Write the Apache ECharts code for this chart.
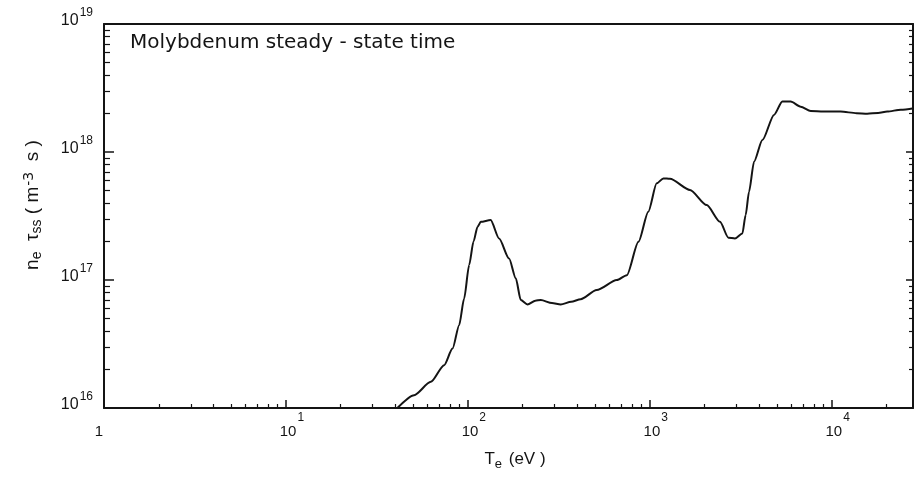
<!DOCTYPE html>
<html>
<head>
<meta charset="utf-8">
<script src="https://cdn.jsdelivr.net/npm/echarts@6/dist/echarts.min.js"></script>
<style>
  html, body { margin: 0; padding: 0; background: #ffffff; }
  #chart { width: 916px; height: 479px; }
</style>
</head>
<body>
<div id="chart"></div>
<script>
// ---- data ----
const temperatureEv = [41, 50.7, 62.6, 74.1, 82.4, 89.6, 95.4, 101.7, 107.5, 113, 117.9, 133.5, 148.5, 168.6, 183.5, 195.5, 212.8, 235, 252, 290, 324, 370, 417, 511, 659, 748, 867, 982, 1092, 1188, 1292, 1664, 2057, 2434, 2706, 2942, 3230, 3367, 3514, 3744, 4160, 4820, 5356, 5952, 6757, 7674, 9000, 11200, 13700, 15700, 18000, 20200, 24000, 28300];
const neTauSS = [1.0e16, 1.26e16, 1.6e16, 2.16e16, 2.91e16, 4.44e16, 7.16e16, 1.31e17, 2.0e17, 2.6e17, 2.85e17, 2.94e17, 2.11e17, 1.47e17, 1.03e17, 6.97e16, 6.43e16, 6.9e16, 6.97e16, 6.6e16, 6.43e16, 6.76e16, 7.08e16, 8.34e16, 9.98e16, 1.09e17, 1.99e17, 3.42e17, 5.69e17, 6.22e17, 6.17e17, 5.05e17, 3.85e17, 2.85e17, 2.14e17, 2.11e17, 2.31e17, 3.22e17, 4.9e17, 8.41e17, 1.24e18, 1.95e18, 2.48e18, 2.48e18, 2.26e18, 2.09e18, 2.07e18, 2.07e18, 2.01e18, 1.99e18, 2.02e18, 2.07e18, 2.14e18, 2.2e18];

const xMin = 1, xMax = 28000;
const yMin = 1e16, yMax = 1e19;
const xTickValues = [1, 10, 100, 1000, 10000];
const xTickLabels = ['1', '10^1', '10^2', '10^3', '10^4'];
const yTickValues = [1e16, 1e17, 1e18, 1e19];
const yTickLabels = ['10^16', '10^17', '10^18', '10^19'];
const minorMultipliers = [2, 3, 4, 5, 6, 7, 8, 9];
const xMinorDecades = [1, 10, 100, 1000, 10000];
const yMinorDecades = [1e16, 1e17, 1e18];
const titleText = 'Molybdenum steady - state time';

// ---- derived tick lists ----
const xMinorTicks = [];
xMinorDecades.forEach(d => minorMultipliers.forEach(m => { if (d * m < xMax) xMinorTicks.push(d * m); }));
const yMinorTicks = [];
yMinorDecades.forEach(d => minorMultipliers.forEach(m => yMinorTicks.push(d * m)));

const FONT = 'Liberation Sans';
const INK = '#141414';

function findLabel(values, labels, v) {
  const i = values.findIndex(t => Math.abs(t - v) / t < 1e-6);
  return i < 0 ? null : labels[i];
}
function xFormatter(v) {
  const lab = findLabel(xTickValues, xTickLabels, v);
  if (!lab) return '';
  if (lab.indexOf('^') < 0) return '{one|' + lab + '}';
  const p = lab.split('^');
  return '{b|' + p[0] + '}{s|' + p[1] + '}';
}
function yFormatter(v) {
  const lab = findLabel(yTickValues, yTickLabels, v);
  if (!lab) return '';
  const p = lab.split('^');
  return '{b|' + p[0] + '}{s|' + p[1] + '}';
}

const baseX = {
  type: 'log', logBase: 10, min: xMin, max: xMax, gridIndex: 0,
  splitLine: { show: false }, minorTick: { show: false }, minorSplitLine: { show: false },
  axisLine: { onZero: false }
};
const baseY = {
  type: 'log', logBase: 10, min: yMin, max: yMax, gridIndex: 0,
  splitLine: { show: false }, minorTick: { show: false }, minorSplitLine: { show: false },
  axisLine: { onZero: false }
};

const chart = echarts.init(document.getElementById('chart'), null, { renderer: 'canvas' });
chart.setOption({
  animation: false,
  backgroundColor: '#ffffff',
  grid: { left: 104, right: 3, top: 24, bottom: 71, containLabel: false, outerBoundsMode: 'none' },
  xAxis: [
    Object.assign({}, baseX, {
      position: 'bottom',
      axisLine: { show: true, onZero: false, lineStyle: { color: INK, width: 2 } },
      axisTick: { show: true, inside: true, length: 8, customValues: xTickValues, lineStyle: { color: INK, width: 1.5 } },
      axisLabel: {
        show: true, customValues: xTickValues, formatter: xFormatter, margin: 4,
        color: INK, fontFamily: FONT, showMinLabel: true, showMaxLabel: true, hideOverlap: false,
        rich: {
          one: { fontSize: 15, fontFamily: FONT, color: INK, lineHeight: 27, verticalAlign: 'bottom', padding: [0, 10, 0, 0] },
          b: { fontSize: 15, fontFamily: FONT, color: INK, lineHeight: 27, verticalAlign: 'bottom', padding: [0, 0, 0, 12] },
          s: { fontSize: 12, fontFamily: FONT, color: INK, lineHeight: 12, verticalAlign: 'top', padding: [0, 0, 0, 1] }
        }
      }
    }),
    Object.assign({}, baseX, {
      position: 'bottom',
      axisLine: { show: false, onZero: false },
      axisTick: { show: true, inside: true, length: 4, customValues: xMinorTicks, lineStyle: { color: INK, width: 1.2 } },
      axisLabel: { show: false }
    }),
    Object.assign({}, baseX, {
      position: 'top',
      axisLine: { show: true, onZero: false, lineStyle: { color: INK, width: 2 } },
      axisTick: { show: false },
      axisLabel: { show: false }
    })
  ],
  yAxis: [
    Object.assign({}, baseY, {
      position: 'left',
      axisLine: { show: true, onZero: false, lineStyle: { color: INK, width: 2 } },
      axisTick: { show: true, inside: true, length: 10, customValues: yTickValues, lineStyle: { color: INK, width: 1.5 } },
      axisLabel: {
        show: true, customValues: yTickValues, formatter: yFormatter, margin: 11,
        padding: [0, 0, 12, 0],
        color: INK, fontFamily: FONT, showMinLabel: true, showMaxLabel: true, hideOverlap: false,
        rich: {
          b: { fontSize: 16, fontFamily: FONT, color: INK, lineHeight: 22, verticalAlign: 'bottom' },
          s: { fontSize: 12, fontFamily: FONT, color: INK, lineHeight: 12, verticalAlign: 'top', padding: [0, 0, 0, 1] }
        }
      }
    }),
    Object.assign({}, baseY, {
      position: 'left',
      axisLine: { show: false, onZero: false },
      axisTick: { show: true, inside: true, length: 6, customValues: yMinorTicks, lineStyle: { color: INK, width: 1.2 } },
      axisLabel: { show: false }
    }),
    Object.assign({}, baseY, {
      position: 'right',
      axisLine: { show: true, onZero: false, lineStyle: { color: INK, width: 2 } },
      axisTick: { show: true, inside: true, length: 7, customValues: yTickValues, lineStyle: { color: INK, width: 1.5 } },
      axisLabel: { show: false }
    }),
    Object.assign({}, baseY, {
      position: 'right',
      axisLine: { show: false, onZero: false },
      axisTick: { show: true, inside: true, length: 4, customValues: yMinorTicks, lineStyle: { color: INK, width: 1.2 } },
      axisLabel: { show: false }
    })
  ],
  series: [{
    type: 'line',
    xAxisIndex: 0, yAxisIndex: 0,
    data: temperatureEv.map((t, i) => [t, neTauSS[i]]),
    showSymbol: false, symbol: 'none',
    smooth: 0.25, smoothMonotone: 'x',
    lineStyle: { color: INK, width: 2 },
    clip: true
  }],
  graphic: [
    {
      type: 'text', left: 130, top: 33,
      style: { text: titleText, font: '20px "DejaVu Sans"', fill: INK }
    },
    {
      type: 'text', x: 515, y: 461,
      style: {
        text: '{b|T}{sub|e}{b| (eV )}', align: 'center', verticalAlign: 'middle',
        rich: {
          b: { fontSize: 17, fontFamily: FONT, fill: INK, lineHeight: 20, verticalAlign: 'top' },
          sub: { fontSize: 13, fontFamily: FONT, fill: INK, lineHeight: 12, verticalAlign: 'bottom', padding: [0, 2, 0, 0] }
        }
      }
    },
    {
      type: 'text', x: 33, y: 205, rotation: Math.PI / 2,
      style: {
        text: '{b|n}{sub|e}{b|  τ}{sub|ss}{b| ( m}{sup|-3}{b|  s )}', align: 'center', verticalAlign: 'middle',
        rich: {
          b: { fontSize: 19, fontFamily: FONT, fill: INK, lineHeight: 22, verticalAlign: 'middle' },
          sub: { fontSize: 14, fontFamily: FONT, fill: INK, lineHeight: 14, verticalAlign: 'bottom' },
          sup: { fontSize: 14, fontFamily: 'DejaVu Sans', fill: INK, lineHeight: 14, verticalAlign: 'top', padding: [0, 0, 0, 1] }
        }
      }
    }
  ]
});
</script>
</body>
</html>
